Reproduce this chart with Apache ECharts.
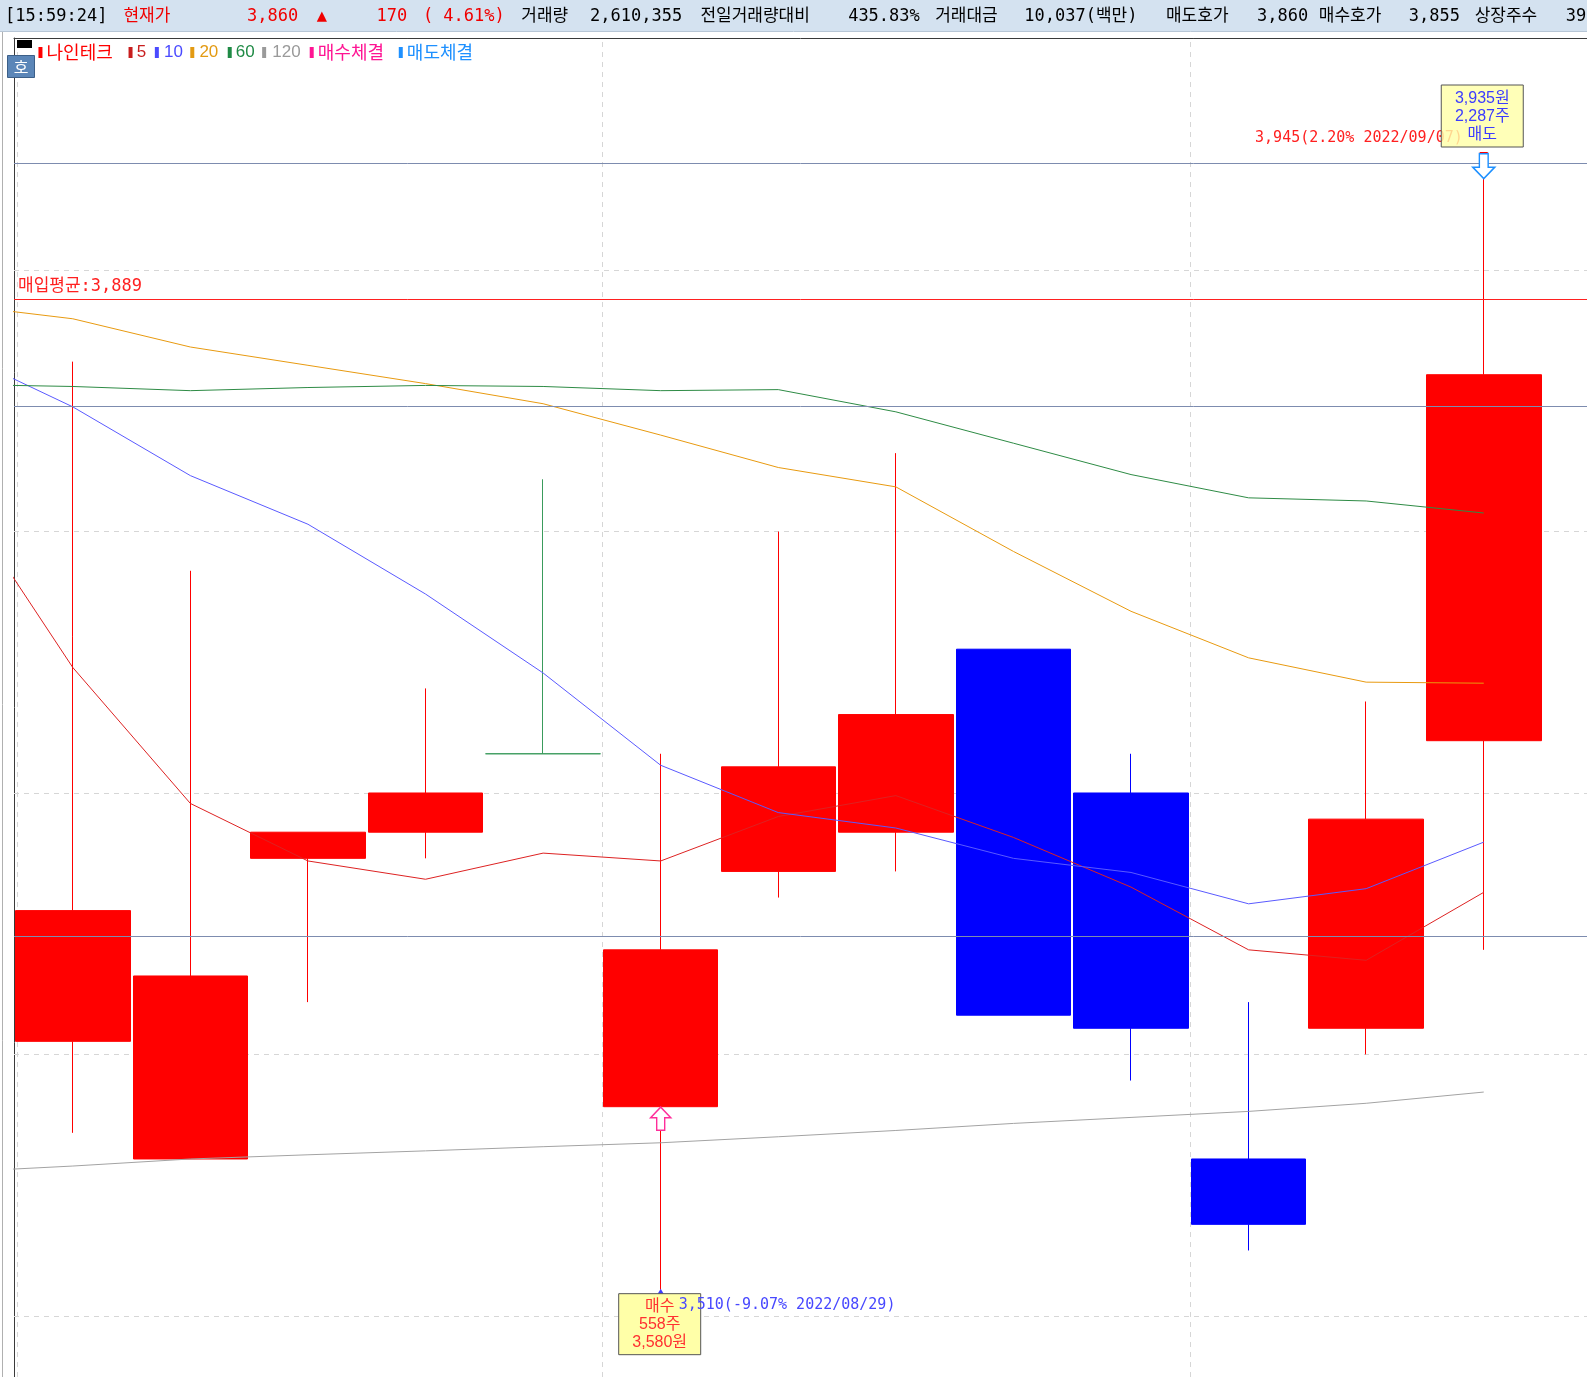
<!DOCTYPE html>
<html><head><meta charset="utf-8">
<script src="https://cdn.jsdelivr.net/npm/echarts@6/dist/echarts.min.js"></script>
<style>html,body{margin:0;padding:0;background:#fff;overflow:hidden}#c{width:1587px;height:1377px}</style>
</head><body><div id="c"></div><script>
// ---------- data ----------
const dates = ['2022/08/22','2022/08/23','2022/08/24','2022/08/25','2022/08/26','2022/08/29','2022/08/30','2022/08/31','2022/09/01','2022/09/02','2022/09/05','2022/09/06','2022/09/07'];
const openP  = [3605, 3560, 3675, 3685, 3715, 3580, 3670, 3685, 3755, 3700, 3560, 3610, 3720];
const closeP = [3655, 3630, 3685, 3700, 3715, 3640, 3710, 3730, 3615, 3610, 3535, 3690, 3860];
const lowP   = [3570, 3560, 3620, 3675, 3715, 3510, 3660, 3670, 3615, 3590, 3525, 3600, 3640];
const highP  = [3865, 3785, 3685, 3740, 3820, 3715, 3800, 3830, 3755, 3715, 3620, 3735, 3945];
// moving averages: first value belongs to the day before the visible window
const maIdx  = [-1, 0, 1, 2, 3, 4, 5, 6, 7, 8, 9, 10, 11, 12];
const ma5    = [3816, 3748, 3696, 3674, 3667, 3677, 3674, 3691, 3699, 3683, 3664, 3640, 3636, 3662];
const ma10   = [3869, 3847.7, 3821.4, 3802.8, 3776.1, 3745.9, 3710.6, 3692.5, 3686.6, 3675, 3669.6, 3657.6, 3663.4, 3681.2];
const ma20   = [3886.8, 3881.4, 3870.6, 3863.6, 3856.6, 3848.9, 3836.9, 3824.5, 3817.1, 3792.4, 3769.5, 3751.7, 3742.4, 3742.0];
const ma60   = [3856.3, 3855.5, 3853.9, 3855.1, 3855.9, 3855.5, 3853.9, 3854.3, 3845.8, 3833.8, 3821.8, 3812.9, 3811.7, 3807.1];
const ma120  = [3555, 3557.3, 3560, 3561.6, 3563.1, 3564.7, 3566.2, 3568.5, 3570.9, 3573.6, 3575.9, 3578.2, 3581.3, 3585.6];
const avgPrice = 3889;
const refLines = [3940.7, 3848.1, 3645.2];
const gridPrices = [3500, 3600, 3700, 3800, 3900];
const weekBreaks = [-0.47, 4.5, 9.5];
const buyIdx = 5, buyPrice = 3580, buyQty = '558주';
const sellIdx = 12, sellPrice = 3935, sellQty = '2,287주';
const lowNote = '3,510(-9.07% 2022/08/29)';
const highNote = '3,945(2.20% 2022/09/07)';
const legendNames = ['나인테크', '5', '10', '20', '60', '120', '매수체결', '매도체결'];
const legendColors = ['#ff0000', '#c81e1e', '#4a4aff', '#e39a12', '#1f8a45', '#9a9a9a', '#ff1493', '#1e90ff'];
const headerItems = [
  ['[15:59:24]', 5, '#000'], ['현재가', 122, '#f00000'], ['3,860', 244, '#f00000'], ['▲', 313, '#f00000'],
  ['170', 372, '#f00000'], ['(', 418, '#f00000'], ['4.61%)', 438, '#f00000'],
  ['거래량', 515, '#000'], ['2,610,355', 583, '#000'], ['전일거래량대비', 692, '#000'], ['435.83%', 838, '#000'],
  ['거래대금', 924, '#000'], ['10,037(백만)', 1012, '#000'], ['매도호가', 1152, '#000'], ['3,860', 1242, '#000'],
  ['매수호가', 1303, '#000'], ['3,855', 1392, '#000'], ['상장주수', 1457, '#000'], ['39,', 1547, '#000']
];
// legend layout (x of marker, x of text), in reference pixels
const legendMarkX = [38, 127, 153, 188, 225, 259, 306, 394];
const legendTextX = [46, 135, 162, 197, 233, 269, 314, 402];

const candleData = dates.map((d, i) => {
  const item = { value: [i, openP[i], closeP[i], lowP[i], highP[i]] };
  if (openP[i] === closeP[i]) {
    const g = '#3a9b5c';
    item.itemStyle = { color: g, color0: g, borderColor: g, borderColor0: g, borderColorDoji: g };
  }
  return item;
});
const pairs = arr => maIdx.map((x, i) => [x, arr[i]]);

const chart = echarts.init(document.getElementById('c'), null, { renderer: 'canvas' });
const mono = "'DejaVu Sans Mono','Noto Sans CJK KR',monospace";
const sans = "'Liberation Sans','Noto Sans CJK KR',sans-serif";

const option = {
  animation: false,
  backgroundColor: '#ffffff',
  grid: { left: 14, top: 38, right: 0, bottom: 0, show: false, containLabel: false, outerBoundsMode: 'none' },
  xAxis: {
    type: 'value', min: -0.5, max: 12.878, position: 'top',
    axisLine: { show: true, onZero: false, lineStyle: { color: '#3a3a3a', width: 1 } },
    axisTick: { show: false }, axisLabel: { show: false }, splitLine: { show: false }
  },
  yAxis: {
    type: 'value', min: 3476.6, max: 3988.8, scale: true,
    axisLine: { show: true, onZero: false, lineStyle: { color: '#3a3a3a', width: 1 } },
    axisTick: { show: false }, axisLabel: { show: false }, splitLine: { show: false }
  },
  series: [
    { // dashed grid
      type: 'line', name: '_grid', data: [], z: 1, silent: true,
      markLine: {
        z: 1, symbol: 'none', silent: true, label: { show: false }, animation: false,
        lineStyle: { color: '#d6d6d6', type: [5, 5], width: 1 },
        data: gridPrices.map(p => ({ yAxis: p })).concat(weekBreaks.map(x => ({ xAxis: x })))
      }
    },
    {
      type: 'candlestick', name: '나인테크', data: candleData, barWidth: 115, z: 2,
      itemStyle: { color: '#ff0000', color0: '#0000ff', borderColor: '#ff0000', borderColor0: '#0000ff', borderWidth: 1 }
    },
    { type: 'line', name: '5', data: pairs(ma5), symbol: 'none', z: 3, lineStyle: { color: '#dd2222', width: 1 } },
    { type: 'line', name: '10', data: pairs(ma10), symbol: 'none', z: 3, lineStyle: { color: '#5a5aff', width: 1 } },
    { type: 'line', name: '20', data: pairs(ma20), symbol: 'none', z: 3, lineStyle: { color: '#e89a10', width: 1 } },
    { type: 'line', name: '60', data: pairs(ma60), symbol: 'none', z: 3, lineStyle: { color: '#2e8b45', width: 1 } },
    { type: 'line', name: '120', data: pairs(ma120), symbol: 'none', z: 3, lineStyle: { color: '#a3a3a3', width: 1 } },
    { // reference lines over candles
      type: 'line', name: '_ref', data: [], z: 4, silent: true,
      markLine: {
        z: 4, symbol: 'none', silent: true, label: { show: false }, animation: false,
        data: refLines.map(p => ({ yAxis: p, lineStyle: { color: '#7d8caf', width: 1, type: 'solid' } }))
          .concat([{ yAxis: avgPrice, lineStyle: { color: '#ff2020', width: 1, type: 'solid' } }])
      }
    },
    {
      type: 'scatter', name: '매수체결', z: 6, data: [[buyIdx, buyPrice]],
      symbol: 'path://M10,0 L20,11 L14,11 L14,24 L6,24 L6,11 L0,11 Z', symbolSize: [20, 23], symbolOffset: [0, 12], symbolKeepAspect: false,
      itemStyle: { color: '#ffffff', borderColor: '#ff2e9a', borderWidth: 1.5, opacity: 1 }
    },
    {
      type: 'scatter', name: '매도체결', z: 6, data: [[sellIdx, sellPrice]],
      symbol: 'path://M6,0 L14,0 L14,13 L20,13 L10,24 L0,13 L6,13 Z', symbolSize: [22, 25], symbolOffset: [0, -12.5], symbolKeepAspect: false,
      itemStyle: { color: '#ffffff', borderColor: '#1e90ff', borderWidth: 1.5, opacity: 1 }
    }
  ]
};
chart.setOption(option);

const P = (x, y) => chart.convertToPixel({ gridIndex: 0 }, [x, y]);
const T = (text, x, y, fill, font, align, valign, z) => ({
  type: 'text', x, y, z: z || 20, silent: true,
  style: { text, fill, font, align: align || 'left', textAlign: align || 'left', verticalAlign: valign || 'middle', textVerticalAlign: valign || 'middle' }
});
const S = 1587 / 1568;
const g = [];
// header bar
g.push({ type: 'rect', shape: { x: 0, y: 0, width: 1587, height: 31 }, style: { fill: '#d4e2f0' }, z: 10 });
g.push({ type: 'line', shape: { x1: 0, y1: 31.5, x2: 1587, y2: 31.5 }, style: { stroke: '#b7c6d6', lineWidth: 1 }, z: 10 });
headerItems.forEach(h => g.push(T(h[0], h[1] * S, 16.5, h[2], '17px ' + mono, 'left', 'middle', 11)));
// window border
g.push({ type: 'line', shape: { x1: 2.5, y1: 32, x2: 2.5, y2: 1377 }, style: { stroke: '#b0b0b0', lineWidth: 1 }, z: 10 });
// small black box and button
g.push({ type: 'rect', shape: { x: 17, y: 40, width: 15, height: 8 }, style: { fill: '#000' }, z: 11 });
g.push({ type: 'rect', shape: { x: 7.5, y: 55.5, width: 27, height: 22 }, style: { fill: '#5b86b8', stroke: '#3c5f88', lineWidth: 1 }, z: 11 });
g.push(T('호', 21, 66.5, '#ffffff', "16px 'Noto Sans CJK KR'", 'center', 'middle', 12));
// legend
legendNames.forEach((n, i) => {
  const isKo = /[가-힣]/.test(n);
  g.push({ type: 'rect', shape: { x: legendMarkX[i] * S, y: 47, width: 4, height: 11 }, style: { fill: legendColors[i] }, z: 12 });
  g.push(T(n, legendTextX[i] * S, 52.5, legendColors[i], isKo ? "18px 'Noto Sans CJK KR'" : "17px 'Liberation Sans'", 'left', 'middle', 12));
});
// average price label
const av = P(-0.5, avgPrice);
g.push(T('매입평균:3,889', 18, av[1] - 12, '#ff2020', '17px ' + mono, 'left', 'middle', 12));
// sell annotation
const hp = P(sellIdx, highP[sellIdx]);
g.push({ type: 'line', shape: { x1: hp[0] - 4, y1: hp[1], x2: hp[0] + 4, y2: hp[1] }, style: { stroke: '#ff0000', lineWidth: 1 }, z: 12 });
g.push(T(highNote, hp[0] - 21, hp[1] - 14, '#ff2020', '15px ' + mono, 'right', 'middle', 12));
g.push({ type: 'rect', shape: { x: hp[0] - 42.5, y: hp[1] - 67.5, width: 82, height: 62 }, style: { fill: 'rgba(255,255,168,0.82)', stroke: '#555555', lineWidth: 1 }, z: 13 });
const sellLines = ['3,935원', sellQty, '매도'];
sellLines.forEach((t, i) => g.push(T(t, hp[0] - 1.5, hp[1] - 53.5 + i * 17.8, '#3c3cff', "16px 'Liberation Sans Narrow','Liberation Sans','Noto Sans CJK KR'", 'center', 'middle', 14)));
// buy annotation
const lp = P(buyIdx, lowP[buyIdx]);
g.push({ type: 'polygon', shape: { points: [[lp[0], lp[1] - 1], [lp[0] - 3, lp[1] + 4], [lp[0] + 3, lp[1] + 4]] }, style: { fill: '#3c3cff' }, z: 12 });
g.push({ type: 'rect', shape: { x: lp[0] - 42, y: lp[1] + 4, width: 82, height: 61 }, style: { fill: '#ffffa8', stroke: '#555555', lineWidth: 1 }, z: 13 });
const buyLines = ['매수', buyQty, '3,580원'];
buyLines.forEach((t, i) => g.push(T(t, lp[0] - 1, lp[1] + 17 + i * 17.8, '#ff3030', "16px 'Liberation Sans Narrow','Liberation Sans','Noto Sans CJK KR'", 'center', 'middle', 14)));
g.push(T(lowNote, lp[0] + 18, lp[1] + 15, '#4848ff', '15px ' + mono, 'left', 'middle', 15));

chart.setOption({ graphic: { elements: g } });
</script></body></html>
